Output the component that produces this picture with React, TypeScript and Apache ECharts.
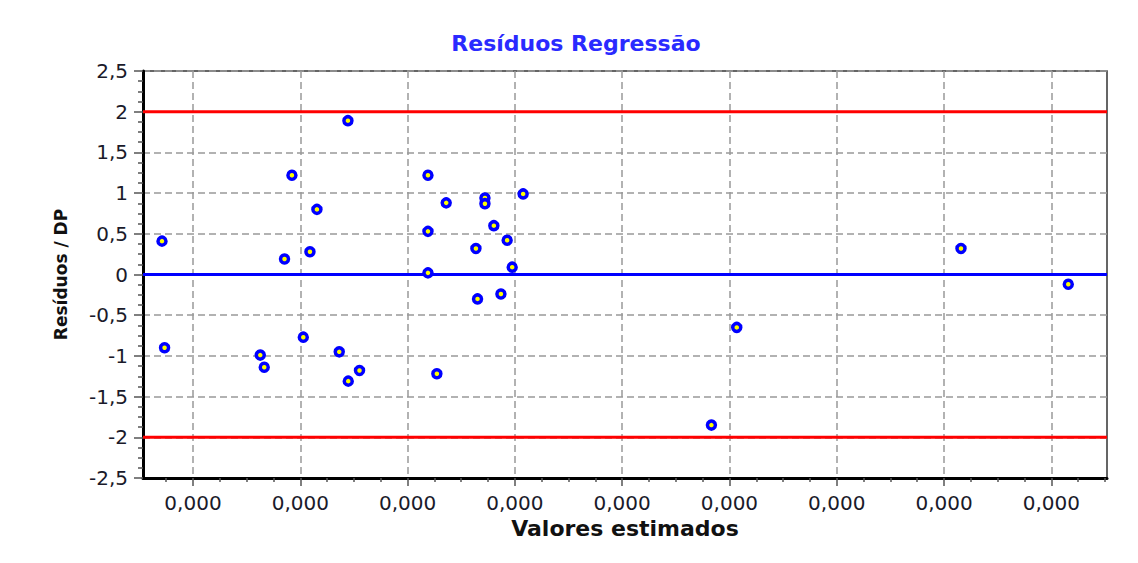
import React, { useEffect, useRef } from "react";
import * as echarts from "echarts";

const TITLE = "Resíduos Regressão";
const X_NAME = "Valores estimados";
const Y_NAME = "Resíduos / DP";

// estimated values (real scale, tiny -> shown as 0,000)
const xValues = [
  0.00000711, 0.00000735, 0.00001627, 0.00001664, 0.00001853, 0.00001922,
  0.00002028, 0.0000209, 0.00002155, 0.00002363, 0.00002444, 0.00002447,
  0.00002552, 0.0000319, 0.0000319, 0.0000319, 0.00003273, 0.0000336,
  0.00003637, 0.00003652, 0.00003721, 0.00003721, 0.00003804, 0.0000387,
  0.00003928, 0.00003975, 0.00004077, 0.00005832, 0.00006068, 0.00008158,
  0.00009158,
];
// residuals / standard deviation
const yValues = [
  0.41, -0.9, -0.99, -1.14, 0.19, 1.22, -0.77, 0.28, 0.8, -0.95, 1.89, -1.31,
  -1.18, 1.22, 0.53, 0.02, -1.22, 0.88, 0.32, -0.3, 0.94, 0.87, 0.6, -0.24,
  0.42, 0.09, 0.99, -1.85, -0.65, 0.32, -0.12,
];

const X_MIN = 0.00000534;
const X_MAX = 0.00009519;
const majorTicks = [
  0.00001, 0.00002, 0.00003, 0.00004, 0.00005, 0.00006, 0.00007, 0.00008,
  0.00009,
];
const Y_MIN = -2.5;
const Y_MAX = 2.5;
const Y_INTERVAL = 0.5;
const limitLines = [2, -2];
const zeroLine = 0;

function buildMinorTicks(): number[] {
  const out: number[] = [];
  for (let k = 3; k <= 38; k++) {
    if (k % 4 !== 0) out.push((k * 0.25) / 100000);
  }
  return out;
}

export default function App() {
  const ref = useRef<HTMLDivElement>(null);

  useEffect(() => {
    if (!ref.current) return;
    const chart = echarts.init(ref.current, null, { renderer: "svg" });
    const labelFont = "DejaVu Sans";
    const fmtX = (v: number) => v.toFixed(3).replace(".", ",");
    const fmtY = (v: number) => String(v).replace(".", ",");
    const data = xValues.map((x, i) => [x, yValues[i]]);

    chart.setOption({
      animation: false,
      backgroundColor: "#ffffff",
      graphic: [
        {
          type: "text",
          x: 568,
          y: 35,
          style: {
            text: TITLE,
            fill: "#2a2aff",
            font: "bold 22px 'DejaVu Sans'",
            textAlign: "center",
            textVerticalAlign: "middle",
          },
        },
      ],
      grid: {
        left: 135,
        top: 63,
        width: 964,
        height: 407,
        show: true,
        borderColor: "#333",
        borderWidth: 1.5,
        backgroundColor: "#ffffff",
      },
      xAxis: [
        {
          type: "value",
          position: "bottom",
          min: X_MIN,
          max: X_MAX,
          name: X_NAME,
          nameLocation: "middle",
          nameGap: 39,
          nameTextStyle: {
            fontFamily: labelFont,
            fontWeight: "bold",
            fontSize: 22,
            color: "#111",
          },
          axisLine: { onZero: false, lineStyle: { color: "#000", width: 3 } },
          axisTick: {
            show: true,
            length: 8,
            customValues: majorTicks,
            lineStyle: { color: "#555", width: 1.5 },
          },
          axisLabel: {
            customValues: majorTicks,
            formatter: fmtX,
            margin: 15,
            fontFamily: labelFont,
            fontSize: 20,
            color: "#1a1a2a",
          },
          splitLine: {
            show: true,
            lineStyle: { color: "#999", width: 1.5, type: [7, 4] },
          },
        },
        {
          type: "value",
          position: "bottom",
          min: X_MIN,
          max: X_MAX,
          axisLine: { show: false, onZero: false },
          axisTick: {
            show: true,
            length: 4,
            customValues: buildMinorTicks(),
            lineStyle: { color: "#555", width: 1.5 },
          },
          axisLabel: { show: false },
          splitLine: { show: false },
        },
      ],
      yAxis: {
        type: "value",
        min: Y_MIN,
        max: Y_MAX,
        interval: Y_INTERVAL,
        name: Y_NAME,
        nameLocation: "middle",
        nameRotate: 90,
        nameGap: 74,
        nameTextStyle: {
          fontFamily: labelFont,
          fontWeight: "bold",
          fontSize: 17,
          color: "#111",
        },
        axisLine: { onZero: false, lineStyle: { color: "#000", width: 3 } },
        axisTick: { show: true, length: 9, lineStyle: { color: "#555", width: 1.5 } },
        minorTick: {
          show: true,
          splitNumber: 4,
          length: 5,
          lineStyle: { color: "#555", width: 1.5 },
        },
        axisLabel: {
          formatter: fmtY,
          margin: 15,
          fontFamily: labelFont,
          fontSize: 20,
          color: "#1a1a2a",
        },
        splitLine: {
          show: true,
          lineStyle: { color: "#999", width: 1.5, type: [7, 4] },
        },
      },
      series: [
        ...limitLines.map((v) => ({
          type: "line",
          data: [
            [X_MIN, v],
            [X_MAX, v],
          ],
          symbol: "none",
          silent: true,
          z: 2,
          lineStyle: { color: "#ff0000", width: 3 },
        })),
        {
          type: "line",
          data: [
            [X_MIN, zeroLine],
            [X_MAX, zeroLine],
          ],
          symbol: "none",
          silent: true,
          z: 2,
          lineStyle: { color: "#0000ff", width: 3 },
        },
        {
          type: "scatter",
          data,
          symbol: "circle",
          symbolSize: 8,
          z: 5,
          itemStyle: {
            color: "#ffff00",
            borderColor: "#0000ff",
            borderWidth: 3.5,
            opacity: 1,
          },
        },
      ],
    });

    return () => chart.dispose();
  }, []);

  return <div ref={ref} style={{ width: 1122, height: 547 }} />;
}
